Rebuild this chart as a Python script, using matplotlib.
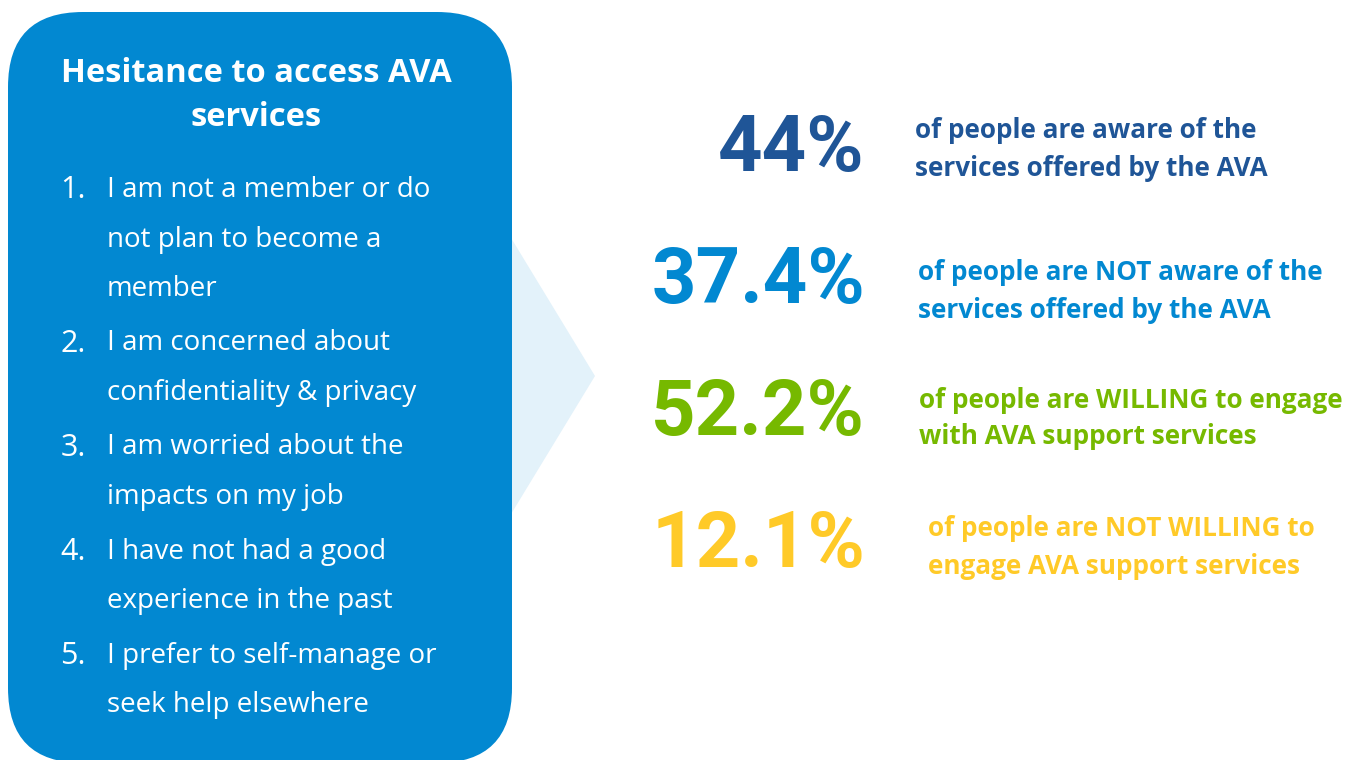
import matplotlib
matplotlib.use("Agg")
import matplotlib.pyplot as plt
from matplotlib.patches import FancyBboxPatch, Polygon

# data
panel_title = ["Hesitance to access AVA", "services"]
reasons = [
    ["I am not a member or do", "not plan to become a", "member"],
    ["I am concerned about", "confidentiality & privacy"],
    ["I am worried about the", "impacts on my job"],
    ["I have not had a good", "experience in the past"],
    ["I prefer to self-manage or", "seek help elsewhere"],
]
stat_values = [44, 37.4, 52.2, 12.1]
stat_texts = [
    ["of people are aware of the", "services offered by the AVA"],
    ["of people are NOT aware of the", "services offered by the AVA"],
    ["of people are WILLING to engage", "with AVA support services"],
    ["of people are NOT WILLING to", "engage AVA support services"],
]
stat_colors = ["#1F5597", "#0288D1", "#76B900", "#FFCA28"]

W, H = 1367, 760
fig = plt.figure(figsize=(W / 100, H / 100), dpi=100)
ax = fig.add_axes([0, 0, 1, 1])
ax.set_xlim(0, W)
ax.set_ylim(H, 0)
ax.axis("off")

# light arrow behind the panel
ax.add_patch(Polygon([(505, 228), (595, 376), (505, 524)], closed=True,
                     facecolor="#E3F2FA", edgecolor="none", zorder=1))

# rounded blue panel
ax.add_patch(FancyBboxPatch((8, 12), 504, 751,
                            boxstyle="round,pad=0,rounding_size=75",
                            facecolor="#0288D1", edgecolor="none", zorder=2))

for i, line in enumerate(panel_title):
    ax.text(256, 73 + i * 45, line, ha="center", va="center", color="white",
            fontsize=23.5, fontweight="bold", family="Open Sans", zorder=3)

row_y = 190
for n, item in enumerate(reasons):
    ax.text(86, row_y, f"{n + 1}.", ha="right", va="center", color="white",
            fontsize=22, fontweight="normal", family="Open Sans", zorder=3)
    for j, line in enumerate(item):
        ax.text(107, row_y + j * 49.5, line, ha="left", va="center", color="white",
                fontsize=20, fontweight="normal", family="Open Sans", zorder=3)
    row_y += len(item) * 49.5 + 5

# statistics on the right
num_y = [150, 282, 414, 546]
text_x = [915, 918, 919, 928]
text_y = [131, 273, 400, 529]
for v, lines, c, ny, tx, ty in zip(stat_values, stat_texts, stat_colors, num_y, text_x, text_y):
    ax.text(865, ny, f"{v:g}%", ha="right", va="center", color=c,
            fontsize=56, fontweight="bold", family="Roboto", stretch="condensed", zorder=3)
    for j, line in enumerate(lines):
        ax.text(tx, ty + j * 37, line, ha="left", va="center", color=c,
                fontsize=18.8, fontweight="bold", family="Open Sans", zorder=3)

fig.savefig("out.png", dpi=100)
